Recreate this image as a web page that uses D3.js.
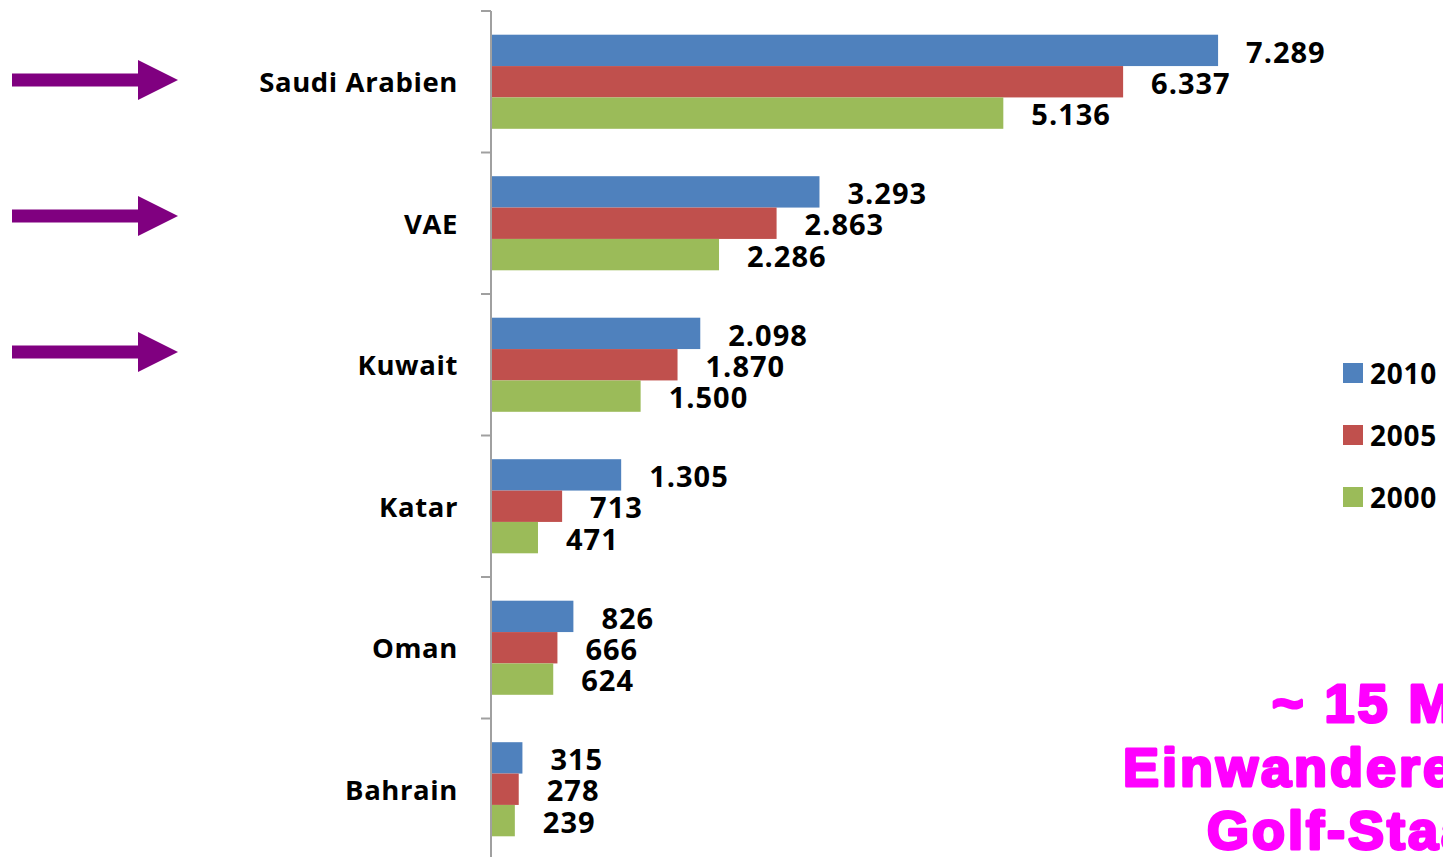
<!DOCTYPE html>
<html>
<head>
<meta charset="utf-8">
<script src="https://cdn.jsdelivr.net/npm/d3@7"></script>
<style>
body{margin:0;background:#fff;overflow:hidden;}
svg{display:block;}
</style>
</head>
<body>
<div id="chart"></div>
<script>
var countries=["Saudi Arabien","VAE","Kuwait","Katar","Oman","Bahrain"];
var years=["2010","2005","2000"];
var v2010=[7289,3293,2098,1305,826,315];
var v2005=[6337,2863,1870,713,666,278];
var v2000=[5136,2286,1500,471,624,239];
var colors=["#4F81BD","#C0504D","#9BBB59"];
var noteLines=["~ 15 Mio.","Einwanderer","Golf-Staaten"];

var width=1443,height=857;
var axisX=491;

var svg=d3.select("#chart").append("svg")
    .attr("width",width)
    .attr("height",height);

var de=d3.formatLocale({decimal:",",thousands:".",grouping:[3],currency:["","€"]});
var fmt=de.format(",d");

var series=[v2010,v2005,v2000];
var rows=countries.map(function(c,i){
    return {name:c,vals:series.map(function(s,k){return {year:years[k],value:s[i],k:k};})};
});

var x=d3.scaleLinear().domain([0,8000]).range([axisX,axisX+798]);
var y=d3.scaleBand().domain(countries).range([11,860]).paddingInner(0.335).paddingOuter(0.1675);
var yInner=d3.scaleBand().domain(years).range([0,y.bandwidth()]);
var yOuter=d3.scaleBand().domain(countries).range([11,860]);

// arrows
var arrowY=[80,216,352];
svg.selectAll(".arrow").data(arrowY).enter().append("path")
    .attr("class","arrow")
    .attr("d",function(d){return "M12,"+(d-6.5)+"H138V"+(d-20)+"L178,"+d+"L138,"+(d+20)+"V"+(d+6.5)+"H12Z";})
    .style("fill","#800080");

// axis line + ticks
svg.append("line").attr("x1",axisX).attr("x2",axisX).attr("y1",11).attr("y2",height)
    .style("stroke","#a0a0a0").style("stroke-width",2);
var tickPos=countries.map(function(c){return yOuter(c);}).concat([860]);
svg.selectAll(".tick").data(tickPos).enter().append("line")
    .attr("x1",axisX-10).attr("x2",axisX).attr("y1",function(d){return d;}).attr("y2",function(d){return d;})
    .style("stroke","#a0a0a0").style("stroke-width",2);

// category labels
svg.selectAll(".cat").data(countries).enter().append("text")
    .attr("x",458)
    .attr("y",function(d){return yOuter(d)+yOuter.bandwidth()/2+1;})
    .attr("dy","0.35em")
    .attr("text-anchor","end")
    .style("font-family","'Open Sans',sans-serif")
    .style("font-weight",700)
    .style("font-size","27.5px")
    .style("letter-spacing","0.6px")
    .text(function(d){return d;});

var g=svg.selectAll(".grp").data(rows).enter().append("g")
    .attr("transform",function(d){return "translate(0,"+y(d.name)+")";});

g.selectAll("rect").data(function(d){return d.vals;}).enter().append("rect")
    .attr("x",axisX+1)
    .attr("y",function(d){return yInner(d.year);})
    .attr("width",function(d){return x(d.value)-axisX-1;})
    .attr("height",yInner.bandwidth())
    .style("fill",function(d){return colors[d.k];});

g.selectAll(".val").data(function(d){return d.vals;}).enter().append("text")
    .attr("x",function(d){return x(d.value)+28;})
    .attr("y",function(d){return yInner(d.year)+yInner.bandwidth()/2+2;})
    .attr("dy","0.35em")
    .style("font-family","'Open Sans',sans-serif")
    .style("font-weight",700)
    .style("font-size","29px")
    .style("letter-spacing","1px")
    .text(function(d){return fmt(d.value);});

// legend
var leg=svg.selectAll(".leg").data(years).enter().append("g")
    .attr("transform",function(d,i){return "translate(1343,"+(373+i*62)+")";});
leg.append("rect").attr("x",0).attr("y",-10).attr("width",20).attr("height",20)
    .style("fill",function(d,i){return colors[i];});
leg.append("text").attr("x",27).attr("y",1).attr("dy","0.35em")
    .style("font-family","'Open Sans',sans-serif")
    .style("font-weight",700)
    .style("font-size","28px")
    .style("letter-spacing","0.7px")
    .text(function(d){return d;});

// note
var noteX=[1272,1123,1207];
svg.selectAll(".note").data(noteLines).enter().append("text")
    .attr("x",function(d,i){return noteX[i];})
    .attr("y",function(d,i){return 722+i*63.5;})
    .style("font-family","'Liberation Sans',Arial,sans-serif")
    .style("font-weight",700)
    .style("font-size","54px")
    .style("letter-spacing","3px")
    .style("fill","#FF00FF")
    .style("stroke","#FF00FF")
    .style("stroke-width",3)
    .style("stroke-linejoin","round")
    .text(function(d){return d;});
</script>
</body>
</html>
